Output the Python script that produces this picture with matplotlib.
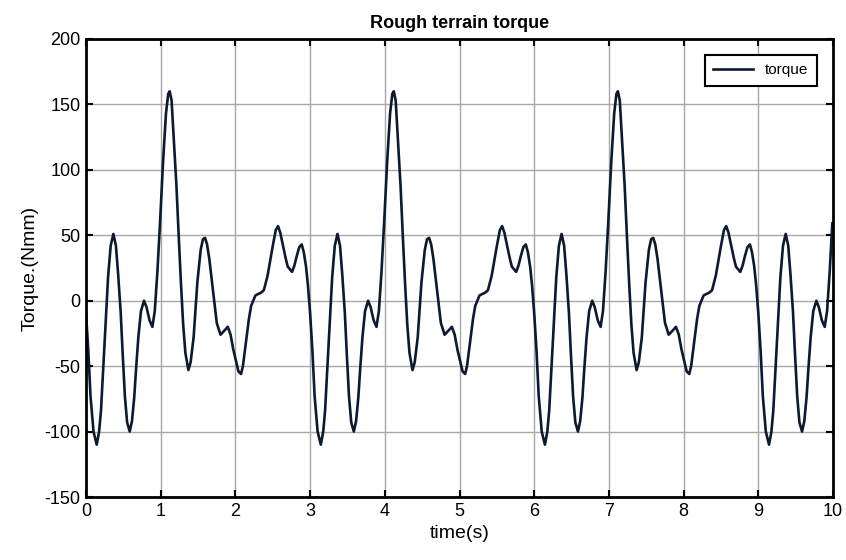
import numpy as np
import matplotlib
matplotlib.use('Agg')
import matplotlib.pyplot as plt

plt.rcParams['font.family'] = ['Liberation Sans Narrow', 'Liberation Sans', 'DejaVu Sans']
plt.rcParams['axes.unicode_minus'] = False

# one 3 s cycle of the torque (the signal repeats every 3 s)
cycle_t = [0.00, 0.03, 0.06, 0.10, 0.143, 0.175, 0.20, 0.25, 0.295, 0.33, 0.366, 0.40,
           0.43, 0.464, 0.49, 0.52, 0.55, 0.585, 0.615, 0.645, 0.67, 0.70, 0.735, 0.776,
           0.81, 0.85, 0.888, 0.92, 0.955, 0.99, 1.03, 1.07, 1.10, 1.12, 1.145, 1.18,
           1.21, 1.24, 1.27, 1.30, 1.33, 1.37, 1.40, 1.44, 1.49, 1.535, 1.565, 1.593,
           1.62, 1.65, 1.705, 1.75, 1.80, 1.85, 1.897, 1.935, 1.97, 2.04, 2.075, 2.10,
           2.14, 2.18, 2.21, 2.267, 2.30, 2.34, 2.38, 2.43, 2.47, 2.50, 2.54, 2.57,
           2.60, 2.633, 2.67, 2.70, 2.758, 2.79, 2.82, 2.855, 2.887, 2.915, 2.945, 2.97]
cycle_torque = [-10, -38, -73, -100, -110, -100, -84, -30, 18, 42, 51, 42,
                20, -9, -40, -73, -93, -100, -92, -74, -52, -28, -8, 0,
                -5, -15, -20, -8, 22, 59, 105, 143, 158, 160, 153, 118,
                88, 50, 14, -18, -40, -53, -47, -28, 14, 39, 47, 48,
                43, 32, 5, -17, -26, -23, -20, -26, -37, -54, -56, -50,
                -32, -14, -4, 4, 5, 6, 8, 19, 32, 42, 54, 57,
                52, 43, 33, 26, 22, 27, 34, 41, 43, 37, 26, 12]
cycle_starts = [0, 3, 6, 9]

t = np.concatenate([np.array(cycle_t) + s for s in cycle_starts])
torque = np.tile(cycle_torque, len(cycle_starts))
keep = t <= 10.0
t, torque = t[keep], torque[keep]

fig = plt.figure(figsize=(8.46, 5.6), dpi=100)
ax = fig.add_axes([0.1017, 0.1125, 0.883, 0.818])

ax.plot(t, torque, color='#0b1a30', lw=1.9, label='torque')

ax.set_xlim(0, 10)
ax.set_ylim(-150, 200)
ax.set_xticks(range(0, 11))
ax.set_yticks(range(-150, 201, 50))
ax.grid(True, color='#a8a8a8', lw=1.0, ls='-')
ax.set_axisbelow(True)
for sp in ax.spines.values():
    sp.set_linewidth(2.0)
    sp.set_color('black')
ax.tick_params(direction='in', length=5, width=1.5, top=True, right=True,
               labelsize=13, pad=4)

ax.set_title('Rough terrain torque', fontsize=13, fontweight='bold', pad=8)
ax.set_xlabel('time(s)', fontsize=14, labelpad=4)
ax.set_ylabel('Torque.(Nmm)', fontsize=14, labelpad=4)

leg = ax.legend(loc='upper right', fontsize=11, fancybox=False, framealpha=1,
                edgecolor='black', borderpad=0.55, handlelength=2.6,
                borderaxespad=0, bbox_to_anchor=(0.9786, 0.965))
leg.get_frame().set_linewidth(1.5)

fig.savefig('out.png', dpi=100)
